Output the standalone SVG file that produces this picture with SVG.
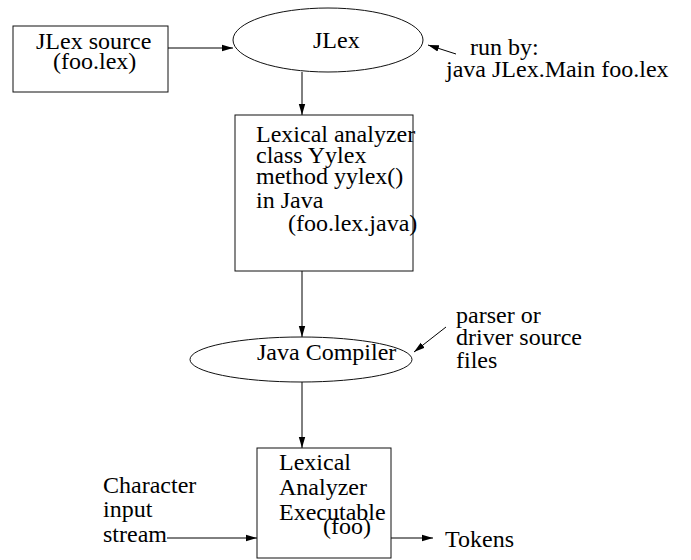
<svg xmlns="http://www.w3.org/2000/svg" width="691" height="560" viewBox="0 0 691 560">
<style>
text{font-family:"Liberation Serif","Times New Roman",serif;font-size:24px;fill:#000}
.n{fill:#fff;stroke:#111;stroke-width:1}
.c{stroke:#000;stroke-width:1;fill:none;marker-end:url(#ah)}
</style>
<defs>
<marker id="ah" markerWidth="12" markerHeight="8" refX="11" refY="4" orient="auto" markerUnits="userSpaceOnUse">
<path d="M0,0.8 L11,4 L0,7.2 Z" fill="#000"/>
</marker>
</defs>
<rect width="691" height="560" fill="#fff"/>
<g id="connectors">
<line class="c" x1="168" y1="48" x2="233" y2="48"/>
<line class="c" x1="456" y1="54" x2="428" y2="45"/>
<line class="c" x1="302" y1="72" x2="302" y2="115"/>
<line class="c" x1="302" y1="271" x2="302" y2="337"/>
<line class="c" x1="446" y1="327" x2="414" y2="352"/>
<line class="c" x1="302" y1="382" x2="302" y2="448"/>
<line class="c" x1="167" y1="538" x2="257" y2="538"/>
<line class="c" x1="391" y1="538" x2="433" y2="538"/>
</g>
<g id="jlex-source">
<rect class="n" x="13" y="26" width="155" height="66"/>
<text x="36" y="49">JLex source</text>
<text x="53" y="69">(foo.lex)</text>
</g>
<g id="jlex">
<ellipse class="n" cx="328" cy="40" rx="95" ry="32"/>
<text x="313" y="48">JLex</text>
</g>
<g id="run-by">
<text x="470" y="55">run by:</text>
<text x="446" y="77">java JLex.Main foo.lex</text>
</g>
<g id="lexical-analyzer-source">
<rect class="n" x="235" y="115" width="178" height="156"/>
<text x="256" y="142">Lexical analyzer</text>
<text x="256" y="163">class Yylex</text>
<text x="256" y="184">method yylex()</text>
<text x="256" y="208">in Java</text>
<text x="288" y="231">(foo.lex.java)</text>
</g>
<g id="java-compiler">
<ellipse class="n" cx="301" cy="359.5" rx="111" ry="22.5"/>
<text x="257" y="360">Java Compiler</text>
</g>
<g id="parser-source">
<text x="456" y="323">parser or</text>
<text x="456" y="345">driver source</text>
<text x="456" y="368">files</text>
</g>
<g id="lexical-analyzer-executable">
<rect class="n" x="257" y="448" width="134" height="110"/>
<text x="279" y="470">Lexical</text>
<text x="279" y="495">Analyzer</text>
<text x="279" y="520">Executable</text>
<text x="323" y="534">(foo)</text>
</g>
<g id="character-input">
<text x="103" y="493">Character</text>
<text x="103" y="517">input</text>
<text x="103" y="542">stream</text>
</g>
<g id="tokens">
<text x="445" y="547">Tokens</text>
</g>
</svg>
